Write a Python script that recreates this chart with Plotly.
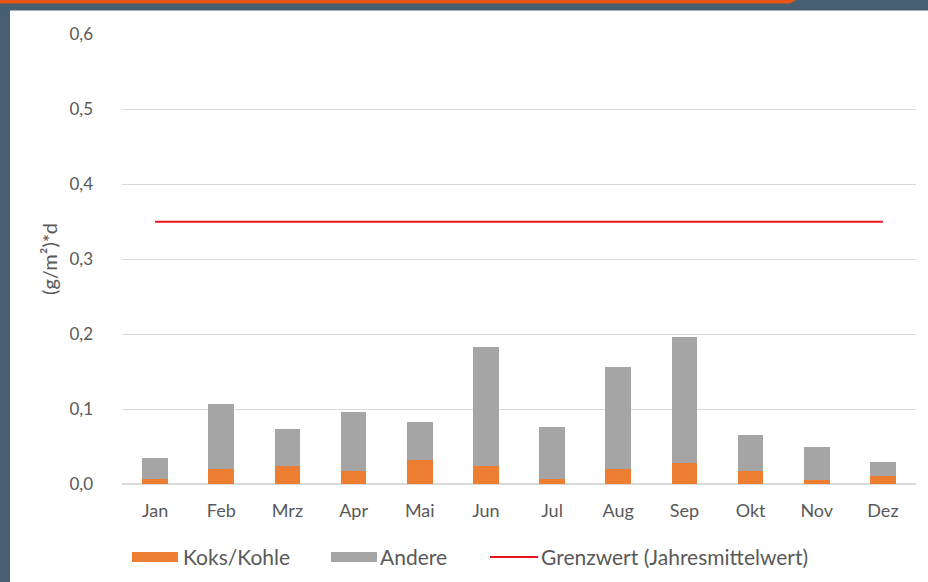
import plotly.graph_objects as go

months = ["Jan", "Feb", "Mrz", "Apr", "Mai", "Jun", "Jul", "Aug", "Sep", "Okt", "Nov", "Dez"]
koks_kohle = [0.007, 0.020, 0.024, 0.017, 0.032, 0.024, 0.007, 0.020, 0.028, 0.017, 0.005, 0.011]
gesamt = [0.035, 0.107, 0.074, 0.096, 0.083, 0.183, 0.076, 0.156, 0.196, 0.066, 0.049, 0.030]
andere = [round(g - k, 3) for g, k in zip(gesamt, koks_kohle)]
grenzwert = [0.35] * len(months)
y_ticks = [0.0, 0.1, 0.2, 0.3, 0.4, 0.5, 0.6]
legend_labels = ["Koks/Kohle", "Andere", "Grenzwert (Jahresmittelwert)"]

ORANGE = "#ED7D31"
GRAY = "#A5A5A5"
RED = "#E8141B"
SLATE = "#475F73"
TXT = "#595959"
FONT = "Lato"

fig = go.Figure()
fig.add_trace(go.Bar(x=months, y=koks_kohle, name=legend_labels[0], marker_color=ORANGE,
                     marker_line_width=0))
fig.add_trace(go.Bar(x=months, y=andere, name=legend_labels[1], marker_color=GRAY,
                     marker_line_width=0))
fig.add_trace(go.Scatter(x=months, y=grenzwert, mode="lines", name=legend_labels[2],
                         line=dict(color=RED, width=2)))

L, R, T, B = 122, 12, 34, 98
W, H = 928, 582
pw, ph = W - L - R, H - T - B

def px(xp):
    return (xp - L) / pw

def py(yp):
    return (H - B - yp) / ph

shapes = [
    dict(type="rect", xref="paper", yref="paper", x0=px(0), x1=px(10), y0=py(H), y1=py(0),
         fillcolor=SLATE, line_width=0, layer="above"),
    dict(type="rect", xref="paper", yref="paper", x0=px(0), x1=px(W), y0=py(10.5), y1=py(0),
         fillcolor=SLATE, line_width=0, layer="above"),
    dict(type="path", xref="paper", yref="paper",
         path=f"M {px(0)},{py(0)} L {px(796)},{py(0)} L {px(790)},{py(3.5)} L {px(0)},{py(3.5)} Z",
         fillcolor="#E8561A", line_width=0, layer="above"),
    # custom legend swatches
    dict(type="rect", xref="paper", yref="paper", x0=px(132), x1=px(178), y0=py(562), y1=py(552),
         fillcolor=ORANGE, line_width=0),
    dict(type="rect", xref="paper", yref="paper", x0=px(331), x1=px(377), y0=py(562), y1=py(552),
         fillcolor=GRAY, line_width=0),
    dict(type="line", xref="paper", yref="paper", x0=px(490), x1=px(538), y0=py(557), y1=py(557),
         line=dict(color=RED, width=2)),
]

annotations = [
    dict(text=legend_labels[0], x=px(181), y=py(556)),
    dict(text=legend_labels[1], x=px(378), y=py(556)),
    dict(text=legend_labels[2], x=px(539), y=py(556)),
]
for a in annotations:
    a.update(xref="paper", yref="paper", xanchor="left", yanchor="middle", showarrow=False,
             font=dict(family=FONT, size=21, color=TXT))

fig.update_layout(
    width=W, height=H,
    margin=dict(l=L, r=R, t=T, b=B),
    barmode="stack", bargap=0.61,
    paper_bgcolor="white", plot_bgcolor="white",
    separators=",.",
    font=dict(family=FONT, size=17, color=TXT),
    shapes=shapes,
    annotations=annotations,
    showlegend=False,
    xaxis=dict(showgrid=False, showline=False, ticks="", ticklabelstandoff=14,
               tickfont=dict(size=18, color=TXT)),
    yaxis=dict(range=[0, 0.6005], tickvals=y_ticks, tickformat=".1f", gridcolor="#D9D9D9",
               gridwidth=1.3, zeroline=True, zerolinecolor="#D9D9D9", zerolinewidth=1.5,
               showline=False, ticklabelstandoff=28, tickfont=dict(size=17, color=TXT),
               title=dict(text="(g/m²)*d", font=dict(size=20, color=TXT), standoff=6)),
)

fig.write_html("out.html", config={"displayModeBar": False},
               post_script="document.body.style.margin='0px';")
